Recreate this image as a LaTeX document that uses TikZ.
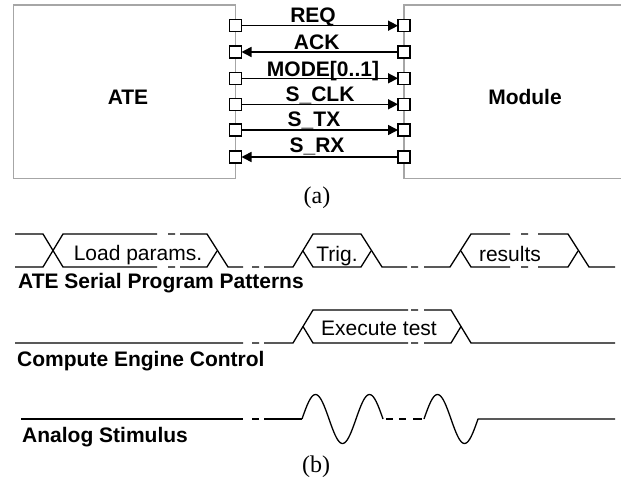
\documentclass[tikz,border=0pt]{standalone}
\usepackage{fontspec}
\setmainfont{Liberation Serif}
\setsansfont{Liberation Sans}
\usetikzlibrary{arrows.meta}
\tikzset{
  block/.style={draw=black!35,line width=1.5pt,fill=white},
  port/.style={draw=black,fill=white,line width=1.5pt,minimum size=12pt,inner sep=0pt,outer sep=0pt},
  sig/.style={line width=1.5pt,-{Triangle[length=10pt,width=10pt]}},
  wave/.style={line width=1.3pt,line cap=butt,line join=round},
  blabel/.style={font=\sffamily\bfseries\fontsize{21}{24}\selectfont,anchor=base,inner sep=0pt},
  tlabel/.style={font=\sffamily\bfseries\fontsize{21}{24}\selectfont,anchor=base west,inner sep=0pt},
  vlabel/.style={font=\sffamily\fontsize{21}{24}\selectfont,anchor=base,inner sep=0pt},
  cap label/.style={font=\rmfamily\fontsize{24}{26}\selectfont,anchor=base,inner sep=0pt}
}
\begin{document}
\begin{tikzpicture}[x=1pt,y=-1pt]
\useasboundingbox (0,0) rectangle (621,478);
\draw[block] (13.5,5) rectangle (235.5,178.5);
\draw[block] (623,5) -- (404,5) -- (404,178.5) -- (623,178.5);
\node[blabel] (ate) at (128,105) {ATE};
\node[blabel] (module) at (525,105) {Module};
% ports
\foreach \n/\y in {1/25.7,2/52,3/78.3,4/104.3,5/130,6/157}{
  \node[port] (l\n) at (235.5,\y) {};
  \node[port] (r\n) at (404,\y) {};
}
\draw[sig] (l1) -- (r1);
\draw[sig] (r2) -- (l2);
\draw[sig] (l3) -- (r3);
\draw[sig] (l4) -- (r4);
\draw[sig] (l5) -- (r5);
\draw[sig] (r6) -- (l6);
\node[blabel] (req) at (313,22.7) {REQ};
\node[blabel] (ack) at (316.7,50) {ACK};
\node[blabel] (mode) at (323,77) {MODE[0..1]};
\node[blabel] (clk) at (320,101.7) {S\_CLK};
\node[blabel] (tx) at (314,126.7) {S\_TX};
\node[blabel] (rx) at (317,152.7) {S\_RX};
\node[cap label] (capa) at (317,204) {(a)};
% row 1
\draw[wave] (15,267) -- (43,267) -- (63,234) -- (157,234) (168,234) -- (175,234) (180,234) -- (207,234) -- (228,267) -- (243,267)
  (252,267) -- (259,267) (264,267) -- (293,267) -- (313,234) -- (361,234) -- (382,267) -- (407,267)
  (411,267) -- (418,267) (424,267) -- (450,267) -- (471,234) -- (510,234)
  (521,234) -- (528,234) (538,234) -- (568,234) -- (589,267) -- (615,267);
\draw[wave] (15,234) -- (43,234) -- (63,267) -- (157,267) (168,267) -- (175,267) (180,267) -- (207,267) -- (217,251);
\draw[wave] (303,251) -- (313,267) -- (361,267) -- (371,251);
\draw[wave] (461,251) -- (471,267) -- (510,267) (521,267) -- (528,267) (538,267) -- (568,267) -- (578,251);
\node[vlabel] (load) at (138,260.7) {Load params.};
\node[vlabel] (trig) at (337,261.7) {Trig.};
\node[vlabel] (res) at (510,261.7) {results};
\node[tlabel] (t1) at (18,289) {ATE Serial Program Patterns};
% row 2
\draw[wave] (15,343) -- (243,343) (252,343) -- (259,343) (264,343) -- (293,343) -- (313,310) -- (408,310)
  (411,310) -- (418,310) (424,310) -- (451,310) -- (471,343) -- (615,343);
\draw[wave] (303,326.5) -- (313,343) -- (408,343) (411,343) -- (418,343) (424,343) -- (451,343) -- (461,326.5);
\node[vlabel] (exec) at (379,335) {Execute test};
\node[tlabel] (t2) at (17,366) {Compute Engine Control};
% row 3
\draw[wave] (21,419) -- (243,419) (252,419) -- (259,419) (264,419) -- (302,419);
\draw[wave] plot[domain=0:81,samples=60,smooth] ({302+\x},{419-24.5*sin(\x*180/27)});
\draw[wave] (386,419) -- (393,419) (399,419) -- (406,419) (413,419) -- (422,419);
\draw[wave] plot[domain=0:54,samples=40,smooth] ({424+\x},{419-24.5*sin(\x*180/27)}) -- (615,419);
\node[tlabel] (t3) at (22,442) {Analog Stimulus};
\node[cap label] (capb) at (316,472) {(b)};
\end{tikzpicture}
\end{document}
